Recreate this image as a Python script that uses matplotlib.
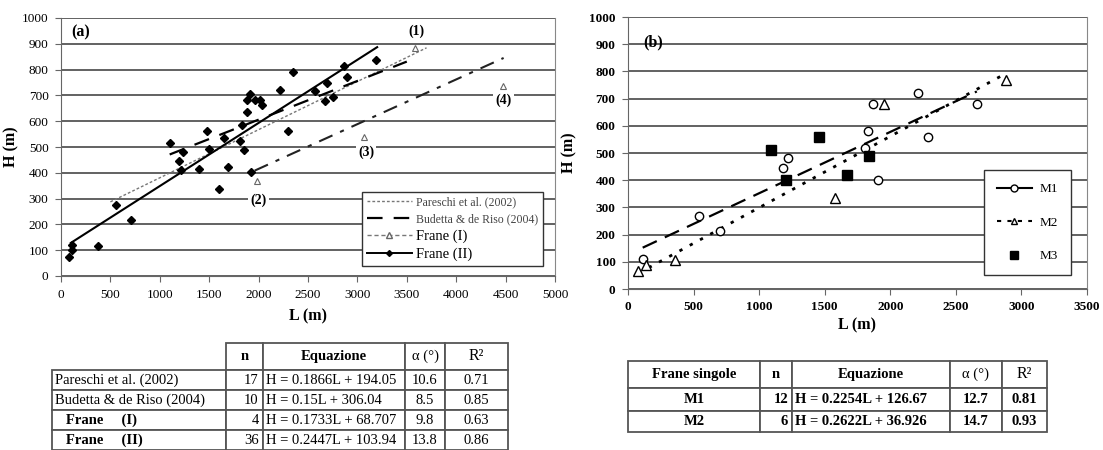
import matplotlib
matplotlib.use("Agg")
import matplotlib.pyplot as plt
from matplotlib.lines import Line2D
import numpy as np

plt.rcParams['font.family'] = ['Liberation Serif', 'DejaVu Serif']

# ---- panel (a) data ----
frane2_L = [80, 110, 115, 375, 560, 705, 1100, 1230, 1195, 1210, 1400, 1475, 1500,
            1600, 1645, 1690, 1815, 1850, 1835, 1885, 1885, 1910, 1960, 2010, 2030,
            1920, 2215, 2350, 2300, 2570, 2690, 2670, 2755, 2865, 2890, 3190]
frane2_H = [75, 100, 120, 115, 275, 217, 514, 482, 447, 411, 413, 563, 491,
            337, 534, 421, 525, 488, 585, 634, 682, 704, 682, 682, 663,
            405, 721, 792, 563, 716, 747, 680, 695, 813, 773, 837]
frane1_L = [3580, 1980, 3070, 4470]
frane1_H = [885, 370, 540, 735]
frane1_tags = ['(1)', '(2)', '(3)', '(4)']
tag_L = [3600, 2000, 3090, 4480]
tag_H = [950, 295, 480, 680]

# regressions (slope, intercept, L range)
pareschi = (0.1866, 194.05, 500, 3700)
budetta = (0.15, 306.04, 1100, 3500)
fit_frane1 = (0.1733, 68.707, 1960, 4480)
fit_frane2 = (0.2447, 103.94, 100, 3200)

# ---- panel (b) data ----
m1_L = [115, 545, 700, 1180, 1220, 1810, 1830, 1870, 1910, 2210, 2290, 2660]
m1_H = [110, 270, 215, 445, 480, 520, 580, 680, 400, 720, 560, 680]
m2_L = [80, 140, 360, 1580, 1950, 2880]
m2_H = [68, 88, 108, 335, 680, 770]
m3_L = [1090, 1205, 1455, 1670, 1840]
m3_H = [510, 400, 560, 420, 490]
fit_m1 = (0.2254, 126.67, 112, 2660)
fit_m2 = (0.2622, 36.926, 80, 2880)

# ---- tables ----
tabA_head = ['', 'n', 'Equazione', 'α (°)', 'R²']
tabA_rows = [['Pareschi et al. (2002)', '17', 'H = 0.1866L + 194.05', '10.6', '0.71'],
             ['Budetta & de Riso (2004)', '10', 'H = 0.15L + 306.04', '8.5', '0.85'],
             ['   Frane     (I)', '4', 'H = 0.1733L + 68.707', '9.8', '0.63'],
             ['   Frane     (II)', '36', 'H = 0.2447L + 103.94', '13.8', '0.86']]
tabB_head = ['Frane singole', 'n', 'Equazione', 'α (°)', 'R²']
tabB_rows = [['M1', '12', 'H = 0.2254L + 126.67', '12.7', '0.81'],
             ['M2', '6', 'H = 0.2622L + 36.926', '14.7', '0.93']]

W, H = 1103, 450
fig = plt.figure(figsize=(W / 100, H / 100), dpi=100)

grid_c = '#555555'


def px_axes(x0, y0, x1, y1):
    return fig.add_axes([x0 / W, 1 - y1 / H, (x1 - x0) / W, (y1 - y0) / H])


def style(ax, xmax, xstep, bold):
    ax.set_ylim(0, 1000)
    ax.set_xlim(0, xmax)
    ax.set_yticks(np.arange(0, 1001, 100))
    ax.set_xticks(np.arange(0, xmax + 1, xstep))
    ax.yaxis.grid(True, color=grid_c, lw=1.3)
    ax.set_axisbelow(True)
    ax.spines['top'].set_visible(False)
    ax.spines['right'].set_color('#888888')
    ax.spines['left'].set_color('#666666')
    ax.spines['bottom'].set_color('#666666')
    ax.tick_params(direction='out', length=4, color='#666666', labelsize=9.5, pad=5)
    for t in ax.get_xticklabels() + ax.get_yticklabels():
        t.set_fontweight('bold' if bold else 'normal')
    ax.set_ylabel('H (m)', fontsize=11.5, fontweight='bold')
    ax.set_xlabel('L (m)', fontsize=11.5, fontweight='bold')


def fit_line(ax, fit, **kw):
    a, b, l0, l1 = fit
    L = np.array([l0, l1])
    ax.plot(L, a * L + b, **kw)


# ---------- panel (a) ----------
axa = px_axes(61, 18, 555, 276)
style(axa, 5000, 500, False)
axa.xaxis.labelpad = 6
axa.yaxis.set_label_coords(-0.085, 0.5)
fit_line(axa, pareschi, color='#777777', lw=1.0, dashes=(2, 1.5))
fit_line(axa, budetta, color='black', lw=1.6, dashes=(7, 5))
fit_line(axa, fit_frane1, color='#222222', lw=1.5, dashes=(7, 4, 2, 4))
fit_line(axa, fit_frane2, color='black', lw=1.5)
axa.plot(frane2_L, frane2_H, 'D', color='black', ms=3.6, ls='none')
axa.plot(frane1_L, frane1_H, '^', mfc='white', mec='#666666', ms=5, mew=0.8, ls='none')
for t, x, y in zip(frane1_tags, tag_L, tag_H):
    axa.text(x, y, t, ha='center', va='center', fontsize=10, fontweight='bold',
             bbox=dict(fc='white', ec='none', pad=1.5))
axa.text(0.02, 0.945, '(a)', transform=axa.transAxes, fontsize=11.5,
         fontweight='bold', va='center')
handles = [Line2D([], [], color='#777777', lw=1.0, dashes=(2, 1.5)),
           Line2D([], [], color='black', lw=1.6, dashes=(7, 5)),
           Line2D([], [], color='#777777', lw=1.0, dashes=(3, 2), marker='^',
                  mfc='white', mec='#666666', ms=4),
           Line2D([], [], color='black', lw=1.4, marker='D', ms=3)]
leg = axa.legend(handles, ['Pareschi et al. (2002)', 'Budetta & de Riso (2004)',
                           'Frane (I)', 'Frane (II)'],
                 loc='lower right', bbox_to_anchor=(0.988, 0.015), fancybox=False,
                 edgecolor='#333333', framealpha=1, handlelength=3.6,
                 handletextpad=0.3, labelspacing=0.35, borderpad=0.4, fontsize=9)
leg.get_frame().set_linewidth(1.0)
for i, t in enumerate(leg.get_texts()):
    if i < 2:
        t.set_fontsize(8.5)
        t.set_color('#444444')
    else:
        t.set_fontsize(10.5)

# ---------- panel (b) ----------
axb = px_axes(628, 17, 1087, 289)
style(axb, 3500, 500, True)
axb.xaxis.labelpad = 3
axb.yaxis.set_label_coords(-0.11, 0.5)
fit_line(axb, fit_m1, color='black', lw=1.6, dashes=(7, 4))
fit_line(axb, fit_m2, color='black', lw=2.0, dashes=(1.2, 3))
axb.plot(m1_L, m1_H, 'o', mfc='white', mec='black', ms=6, mew=1.0, ls='none')
axb.plot(m2_L, m2_H, '^', mfc='white', mec='black', ms=6.5, mew=1.0, ls='none')
axb.plot(m3_L, m3_H, 's', color='black', ms=7, ls='none')
axb.text(0.033, 0.905, '(b)', transform=axb.transAxes, fontsize=11.5,
         fontweight='bold', va='center')
hb = [Line2D([], [], color='black', lw=1.5, marker='o', mfc='white', ms=5),
      Line2D([], [], color='black', lw=1.5, dashes=(2, 3), marker='^', mfc='white', ms=5),
      Line2D([], [], color='black', ls='none', marker='s', ms=6)]
legb = axb.legend(hb, ['M1', 'M2', 'M3'], loc='lower right',
                  bbox_to_anchor=(0.98, 0.026), fancybox=False, edgecolor='#333333',
                  framealpha=1, labelspacing=1.6, handlelength=2.6, borderpad=1.0,
                  fontsize=9.5, handletextpad=0.6)
legb.get_frame().set_linewidth(1.0)

# ---------- tables ----------
tax = fig.add_axes([0, 0, 1, 1])
tax.set_axis_off()


def align(cell, loc):
    cell._loc = loc
    cell.get_text().set_ha(loc)


def make_table(head, rows, x0, y0, colw, rowh, bold_rows, aligns, fs):
    tot_w = sum(colw)
    tot_h = sum(rowh)
    tb = tax.table(cellText=[head] + rows,
                   bbox=[x0 / W, 1 - (y0 + tot_h) / H, tot_w / W, tot_h / H],
                   colWidths=[c / tot_w for c in colw])
    tb.auto_set_font_size(False)
    for (r, c), cell in tb.get_celld().items():
        cell.set_height(rowh[r] / tot_h)
        cell.set_edgecolor('#555555')
        cell.set_linewidth(1.3)
        cell.PAD = 0.12 if c == 1 else 0.02
        txt = cell.get_text()
        txt.set_fontsize(fs)
        align(cell, 'center' if r == 0 else aligns[c])
        if r in bold_rows:
            txt.set_fontweight('bold')
    return tb


ta = make_table(tabA_head, tabA_rows, 52, 343, [174, 37, 142, 40, 63],
                [27, 20, 20, 20, 20], [], ['left', 'right', 'left', 'center', 'center'], 10.5)
ta[0, 0].visible_edges = ''
ta[0, 1].get_text().set_fontweight('bold')
ta[0, 2].get_text().set_fontweight('bold')
ta[0, 4].get_text().set_fontsize(11.5)
for r in [3, 4]:
    ta[r, 0].get_text().set_fontweight('bold')

tb = make_table(tabB_head, tabB_rows, 628, 361, [132, 32, 158, 52, 45],
                [27, 23, 21], [1, 2], ['center', 'right', 'left', 'center', 'center'], 10.5)
for c in [0, 1, 2]:
    tb[0, c].get_text().set_fontweight('bold')
tb[0, 4].get_text().set_fontsize(11.5)

fig.savefig('out.png', dpi=100)
